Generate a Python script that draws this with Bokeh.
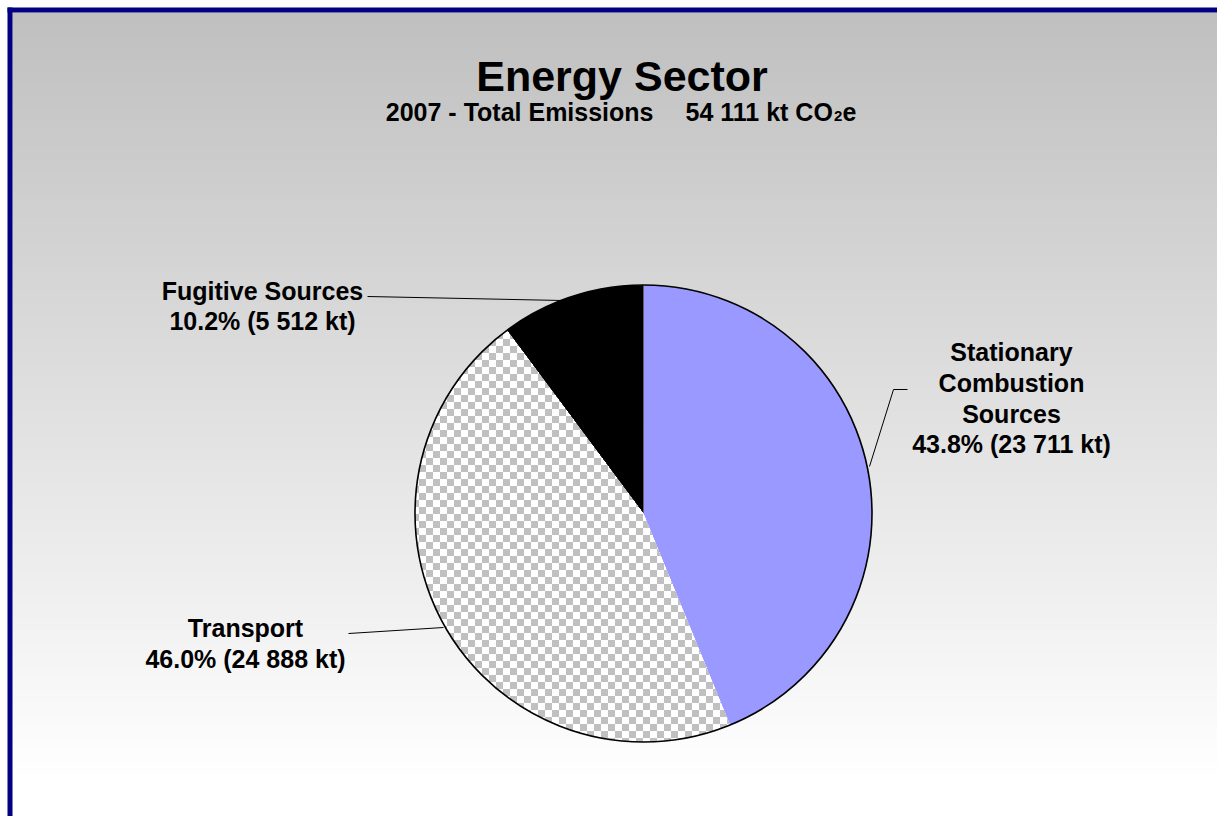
import numpy as np
from bokeh.plotting import figure
from bokeh.models import Range1d
from bokeh.core.properties import value
from bokeh.embed import file_html
from bokeh.resources import INLINE

# ---- data ----
title_text = "Energy Sector"
year = 2007
categories = ["Stationary Combustion Sources", "Transport", "Fugitive Sources"]
label_lines = [["Stationary", "Combustion", "Sources"], ["Transport"], ["Fugitive Sources"]]
emissions_kt = [23711, 24888, 5512]
slice_colors = ["#9999FF", "#FFFFFF", "#000000"]

# ---- layout helpers (picture pixel coords -> figure coords) ----
W, H = 1217, 816
def fx(ix):
    return np.asarray(ix, dtype=float)
def fy(iy):
    return H - np.asarray(iy, dtype=float)

FONT = value("Liberation Sans")

p = figure(width=W, height=H, x_range=Range1d(0, W), y_range=Range1d(0, H),
           output_backend="svg", toolbar_location=None, min_border=0,
           x_axis_location=None, y_axis_location=None)
p.xgrid.visible = False
p.ygrid.visible = False
p.outline_line_color = None
p.background_fill_color = "white"
p.border_fill_color = "white"

# ---- gradient background ----
ys = np.arange(12, 826, 2)
g = np.clip(192 + 63 * (ys + 1 - 12) / (775 - 12), 0, 255).astype(int)
bg_colors = ["#%02x%02x%02x" % (v, v, v) for v in g]
p.quad(left=float(fx(12)), right=W, top=fy(ys), bottom=fy(ys + 3),
       fill_color=bg_colors, line_color=None)

# ---- navy frame (left and top visible) ----
navy = "#000080"
p.quad(left=[float(fx(7)), float(fx(7))], right=[float(fx(12)), W],
       top=[float(fy(7)), float(fy(7))], bottom=[0, float(fy(12))],
       fill_color=navy, line_color=None)

# ---- pie ----
cx, cy, R = float(fx(643)), float(fy(513)), 228.5
vals = np.array(emissions_kt, dtype=float)
total = vals.sum()
frac = vals / total
cum = np.concatenate([[0.0], np.cumsum(frac)])
bounds = np.pi / 2 - 2 * np.pi * cum
start = bounds[1:]
end = bounds[:-1]
p.wedge(x=cx, y=cy, radius=R, start_angle=start, end_angle=end,
        fill_color=slice_colors, line_color=None)

# checkerboard texture for Transport slice
sq = 7
n = int(2 * R) + 4
x0, y0 = cx - n / 2, cy - n / 2
jj, ii = np.meshgrid(np.arange(n), np.arange(n))
px = x0 + jj + 0.5
py = y0 + ii + 0.5
dx, dy = px - cx, py - cy
rr = np.hypot(dx, dy)
th = np.arctan2(dy, dx)
s, e = start[1], end[1]
rel = np.mod(th - s, 2 * np.pi)
inside = (rr <= R) & (rel <= np.mod(e - s, 2 * np.pi))
chk = ((np.floor((px - cx) / sq) + np.floor((py - cy) / sq)) % 2) == 0
img = np.zeros((n, n), dtype=np.uint32)
view = img.view(dtype=np.uint8).reshape((n, n, 4))
c = np.where(chk, 192, 255).astype(np.uint8)
view[..., 0] = c
view[..., 1] = c
view[..., 2] = c
view[..., 3] = np.where(inside, 255, 0).astype(np.uint8)
p.image_rgba(image=[img], x=x0, y=y0, dw=n, dh=n)

# outline
p.circle(x=cx, y=cy, radius=R, fill_color=None, line_color="black", line_width=1.6)

# ---- leader lines ----
lead_x = [fx([907, 893, 869]), fx([348, 443]), fx([367, 562])]
lead_y = [fy([389, 389, 466]), fy([633, 627]), fy([296, 300])]
p.multi_line(xs=[list(a) for a in lead_x], ys=[list(a) for a in lead_y],
             line_color="black", line_width=1)

# ---- labels ----
def fmt_int(v):
    return f"{int(v):,}".replace(",", " ")

label_pos = [(1011, [351, 382, 413, 443]), (245, [627, 658]), (262, [290, 320])]
tx, ty, tt = [], [], []
for k, (lx, lys) in enumerate(label_pos):
    lines = label_lines[k] + [f"{frac[k]*100:.1f}% ({fmt_int(vals[k])} kt)"]
    for line, ly in zip(lines, lys):
        tx.append(float(fx(lx)))
        ty.append(float(fy(ly)))
        tt.append(line)
p.text(x=tx, y=ty, text=tt, text_align="center", text_baseline="alphabetic",
       text_font=FONT, text_font_style="bold", text_font_size="25px", text_color="black")

# ---- title and subtitle ----
p.text(x=[float(fx(621.5))], y=[float(fy(75))], text=[title_text], text_align="center",
       text_baseline="alphabetic", text_font=FONT, text_font_style="bold",
       text_font_size="43px", text_color="black")
p.text(x=[float(fx(653))], y=[float(fy(111))], text=[f"{year} - Total Emissions"],
       text_align="right", text_baseline="alphabetic", text_font=FONT,
       text_font_style="bold", text_font_size="25px", text_color="black")
p.text(x=[float(fx(685))], y=[float(fy(111))], text=[f"{fmt_int(total)} kt CO"],
       text_align="left", text_baseline="alphabetic", text_font=FONT,
       text_font_style="bold", text_font_size="25px", text_color="black")
p.text(x=[float(fx(833.5))], y=[float(fy(115))], text=["2"],
       text_align="left", text_baseline="alphabetic", text_font=FONT,
       text_font_style="bold", text_font_size="15px", text_color="black")
p.text(x=[float(fx(842))], y=[float(fy(111))], text=["e"],
       text_align="left", text_baseline="alphabetic", text_font=FONT,
       text_font_style="bold", text_font_size="25px", text_color="black")

open("out.html", "w").write(file_html(p, INLINE))
